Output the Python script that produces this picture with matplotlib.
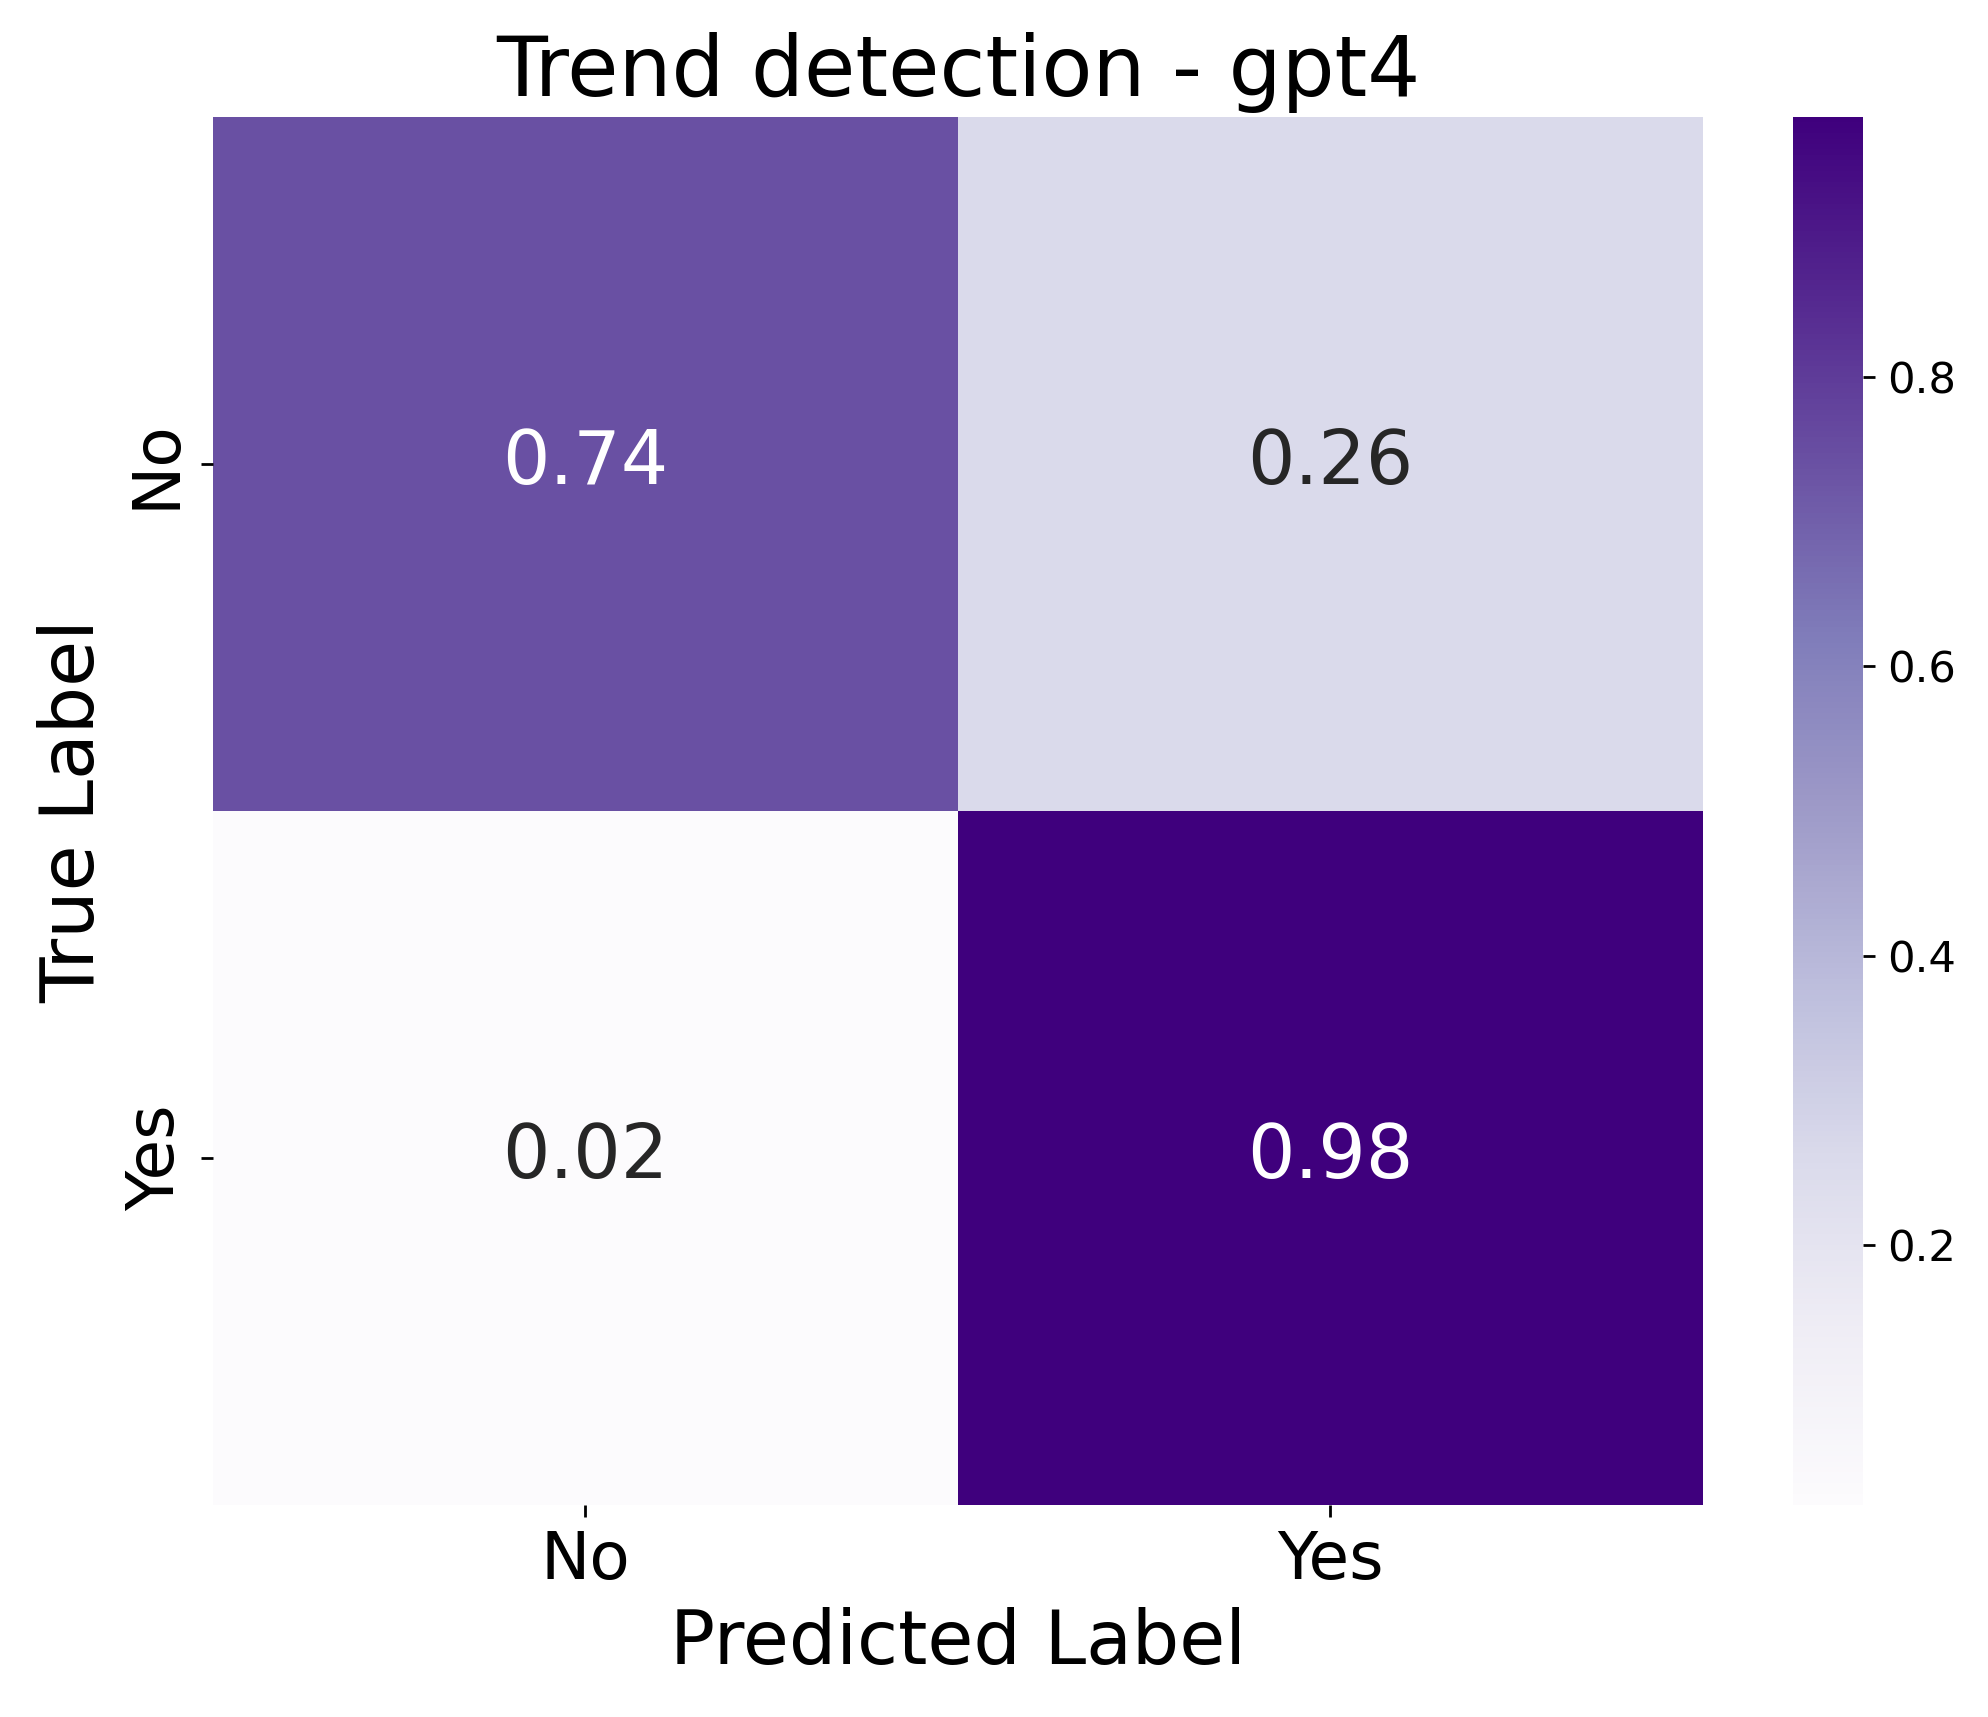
import numpy as np
import matplotlib
matplotlib.use("Agg")
import matplotlib.pyplot as plt
import seaborn as sns

labels = ["No", "Yes"]
cm = np.array([[0.74, 0.26],
               [0.02, 0.98]])

fig = plt.figure(figsize=(1988/250, 1717/250), dpi=250)
ax = fig.add_axes([0.1071, 0.1235, 0.7495, 0.8084])
cax = fig.add_axes([0.9019, 0.1235, 0.0352, 0.8084])

sns.heatmap(cm, annot=True, fmt=".2f", cmap="Purples", ax=ax, cbar_ax=cax,
            xticklabels=labels, yticklabels=labels,
            annot_kws={"size": 21.5})

ax.set_title("Trend detection - gpt4", fontsize=24)
ax.set_xlabel("Predicted Label", fontsize=21.5)
ax.set_ylabel("True Label", fontsize=21.5)
ax.tick_params(axis="both", labelsize=19)
cax.tick_params(labelsize=12.5)

fig.savefig("out.png", dpi=250)
